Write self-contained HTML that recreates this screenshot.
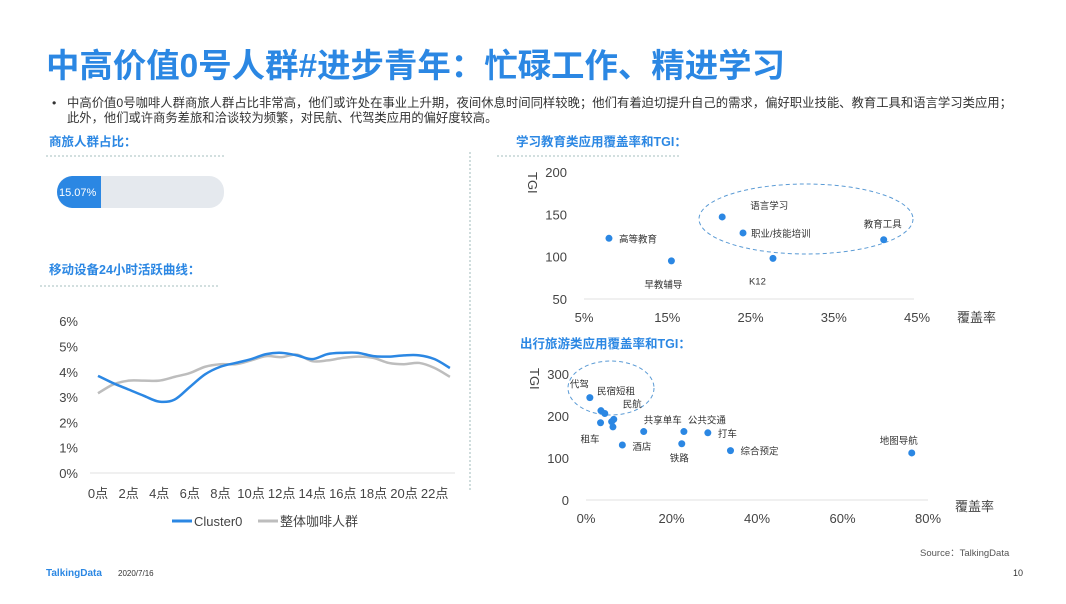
<!DOCTYPE html>
<html><head><meta charset="utf-8"><style>
html,body{margin:0;padding:0;background:#fff;}
body{width:1066px;height:599px;overflow:hidden;font-family:"Liberation Sans","Noto Sans CJK SC",sans-serif;}
svg text{font-family:"Liberation Sans","Noto Sans CJK SC",sans-serif;}
</style></head><body>
<svg id="s" width="1066" height="599" viewBox="0 0 1066 599" xmlns="http://www.w3.org/2000/svg">
<text x="46" y="77" font-size="33" font-weight="bold" fill="#2b87e3" textLength="739" lengthAdjust="spacingAndGlyphs">中高价值0号人群#进步青年：忙碌工作、精进学习</text>
<g font-size="12.3" fill="#333">
<text x="52" y="107">•</text>
<text x="67" y="107" textLength="945" lengthAdjust="spacingAndGlyphs">中高价值0号咖啡人群商旅人群占比非常高，他们或许处在事业上升期，夜间休息时间同样较晚；他们有着迫切提升自己的需求，偏好职业技能、教育工具和语言学习类应用；</text>
<text x="67" y="122">此外，他们或许商务差旅和洽谈较为频繁，对民航、代驾类应用的偏好度较高。</text>
</g>
<g font-size="12.5" font-weight="bold" fill="#2b87e3">
<text x="49" y="146">商旅人群占比：</text>
<text x="49" y="274">移动设备24小时活跃曲线：</text>
<text x="516" y="146">学习教育类应用覆盖率和TGI：</text>
<text x="520" y="348">出行旅游类应用覆盖率和TGI：</text>
</g>
<g stroke="#8aa" stroke-width="0.8" stroke-dasharray="2,2" fill="none">
<line x1="46" y1="156" x2="224" y2="156"/>
<line x1="40" y1="286" x2="220" y2="286"/>
<line x1="497" y1="156" x2="680" y2="156"/>
<line x1="470" y1="152" x2="470" y2="490"/>
</g>
<g>
<rect x="57" y="176" width="167" height="32" rx="15" fill="#e5e9ee"/>
<path d="M72 176 H101 V208 H72 A16 16 0 0 1 57 192 A16 16 0 0 1 72 176 Z" fill="#2b87e3"/>
<text x="59" y="196" font-size="11" fill="#fff">15.07%</text>
</g>
<g id="line"></g>
<g id="sc1"></g>
<g id="sc2"></g>
<text x="920" y="556" font-size="9.5" fill="#555">Source：TalkingData</text>
<text x="46" y="576" font-size="10" font-weight="bold" fill="#2b87e3">TalkingData</text>
<text x="118" y="576" font-size="8" fill="#333">2020/7/16</text>
<text x="1013" y="576" font-size="9" fill="#333">10</text>
</svg>
<script>
const hours=[0,1,2,3,4,5,6,7,8,9,10,11,12,13,14,15,16,17,18,19,20,21,22,23];
const cluster0=[3.84,3.55,3.3,3.05,2.82,2.9,3.4,3.9,4.2,4.35,4.5,4.7,4.75,4.65,4.5,4.7,4.75,4.75,4.62,4.6,4.65,4.65,4.5,4.15];
const overall=[3.15,3.5,3.65,3.65,3.65,3.8,3.95,4.2,4.3,4.3,4.45,4.62,4.58,4.68,4.42,4.45,4.55,4.6,4.55,4.35,4.3,4.35,4.15,3.8];
const yTicks=[0,1,2,3,4,5,6];
const xTickLabels=["0点","2点","4点","6点","8点","10点","12点","14点","16点","18点","20点","22点"];

const eduNames=["高等教育","早教辅导","语言学习","职业/技能培训","K12","教育工具"];
const eduCov=[8.0,15.5,21.6,24.1,27.7,41.0];
const eduTgi=[121.7,95,146.9,128,98,120];
const eduXTicks=[5,15,25,35,45];
const eduYTicks=[50,100,150,200];

const trNames=["代驾","民宿短租","民航","","","","租车","共享单车","公共交通","打车","酒店","铁路","综合预定","地图导航"];
const trCov=[0.9,3.5,4.4,6.5,6.0,6.3,3.4,13.5,22.9,28.5,8.5,22.4,33.8,76.2];
const trTgi=[243.7,212.7,206,192,186.5,174,184,163,163,160,131,134,117.5,112];
const trXTicks=[0,20,40,60,80];
const trYTicks=[0,100,200,300];

const NS="http://www.w3.org/2000/svg";
function mk(p,tag,at,txt){const e=document.createElementNS(NS,tag);for(const k in at)e.setAttribute(k,at[k]);if(txt!==undefined)e.textContent=txt;p.appendChild(e);return e;}
function smooth(pts){let d="M"+pts[0][0]+" "+pts[0][1];for(let i=0;i<pts.length-1;i++){const p0=pts[i-1]||pts[i],p1=pts[i],p2=pts[i+1],p3=pts[i+2]||p2;const c1=[p1[0]+(p2[0]-p0[0])/6,p1[1]+(p2[1]-p0[1])/6],c2=[p2[0]-(p3[0]-p1[0])/6,p2[1]-(p3[1]-p1[1])/6];d+=" C"+c1[0]+" "+c1[1]+" "+c2[0]+" "+c2[1]+" "+p2[0]+" "+p2[1];}return d;}

// line chart
const L=document.getElementById('line');
const lx=h=>98+h*15.3, ly=v=>473-v*25.3;
mk(L,'line',{x1:90,y1:473,x2:455,y2:473,stroke:'#e0e0e0'});
yTicks.forEach(t=>{const e=mk(L,'text',{x:78,y:ly(t)+5,'font-size':13,fill:'#444','text-anchor':'end'},t+'%');});
xTickLabels.forEach((t,i)=>{const e=mk(L,'text',{x:lx(i*2),y:498,'font-size':13,fill:'#444','text-anchor':'middle'},t);});
const g2=mk(L,'path',{d:smooth(hours.map((h,i)=>[lx(h),ly(overall[i])])),fill:'none',stroke:'#bdbdbd','stroke-width':2.5});

const g1=mk(L,'path',{d:smooth(hours.map((h,i)=>[lx(h),ly(cluster0[i])])),fill:'none',stroke:'#2b87e3','stroke-width':2.5});

mk(L,'line',{x1:172,y1:521,x2:192,y2:521,stroke:'#2b87e3','stroke-width':3});
const l1=mk(L,'text',{x:194,y:526,'font-size':13,fill:'#444'},'Cluster0');
mk(L,'line',{x1:258,y1:521,x2:278,y2:521,stroke:'#bdbdbd','stroke-width':3});
const l2=mk(L,'text',{x:280,y:526,'font-size':13,fill:'#444'},'整体咖啡人群');

// scatter 1
const S1=document.getElementById('sc1');
const ax=v=>584+(v-5)/40*333, ay=v=>299-(v-50)/150*127;
mk(S1,'line',{x1:584,y1:299,x2:914,y2:299,stroke:'#e0e0e0'});
eduYTicks.forEach(t=>{const e=mk(S1,'text',{x:567,y:ay(t)+5,'font-size':13,fill:'#444','text-anchor':'end'},t);});
eduXTicks.forEach(t=>{const e=mk(S1,'text',{x:ax(t),y:322,'font-size':13,fill:'#444','text-anchor':'middle'},t+'%');});
mk(S1,'text',{x:0,y:0,'font-size':13,fill:'#444',transform:'translate(528,172) rotate(90)'},'TGI');
mk(S1,'text',{x:957,y:322,'font-size':13,fill:'#444'},'覆盖率');
mk(S1,'ellipse',{cx:806,cy:219,rx:107,ry:35,fill:'none',stroke:'#5b9bd5','stroke-dasharray':'4,3'});
const off1=[[10,4],[-27,27],[28,-8],[8,4],[-24,26],[-20,-12]];
eduNames.forEach((n,i)=>{const c=mk(S1,'circle',{cx:ax(eduCov[i]),cy:ay(eduTgi[i]),r:3.5,fill:'#2b87e3'});
const t=mk(S1,'text',{x:ax(eduCov[i])+off1[i][0],y:ay(eduTgi[i])+off1[i][1],'font-size':9.5,fill:'#333'},n);});

// scatter 2
const S2=document.getElementById('sc2');
const bx=v=>586+v/80*342, by=v=>500-v/300*126;
mk(S2,'line',{x1:586,y1:500,x2:928,y2:500,stroke:'#e0e0e0'});
trYTicks.forEach(t=>{const e=mk(S2,'text',{x:569,y:by(t)+5,'font-size':13,fill:'#444','text-anchor':'end'},t);});
trXTicks.forEach(t=>{const e=mk(S2,'text',{x:bx(t),y:523,'font-size':13,fill:'#444','text-anchor':'middle'},t+'%');});
mk(S2,'text',{x:0,y:0,'font-size':13,fill:'#444',transform:'translate(530,368) rotate(90)'},'TGI');
mk(S2,'text',{x:955,y:511,'font-size':13,fill:'#444'},'覆盖率');
mk(S2,'ellipse',{cx:611,cy:388,rx:43,ry:27,fill:'none',stroke:'#5b9bd5','stroke-dasharray':'4,3'});
const off2=[[-20,-10],[-4,-16],[18,-6],[0,0],[0,0],[0,0],[-20,20],[0,-8],[4,-8],[10,4],[10,5],[-12,18],[10,4],[-32,-9]];
trNames.forEach((n,i)=>{const c=mk(S2,'circle',{cx:bx(trCov[i]),cy:by(trTgi[i]),r:3.5,fill:'#2b87e3'});
if(n){const t=mk(S2,'text',{x:bx(trCov[i])+off2[i][0],y:by(trTgi[i])+off2[i][1],'font-size':9.5,fill:'#333'},n);}});
</script>
</body></html>
